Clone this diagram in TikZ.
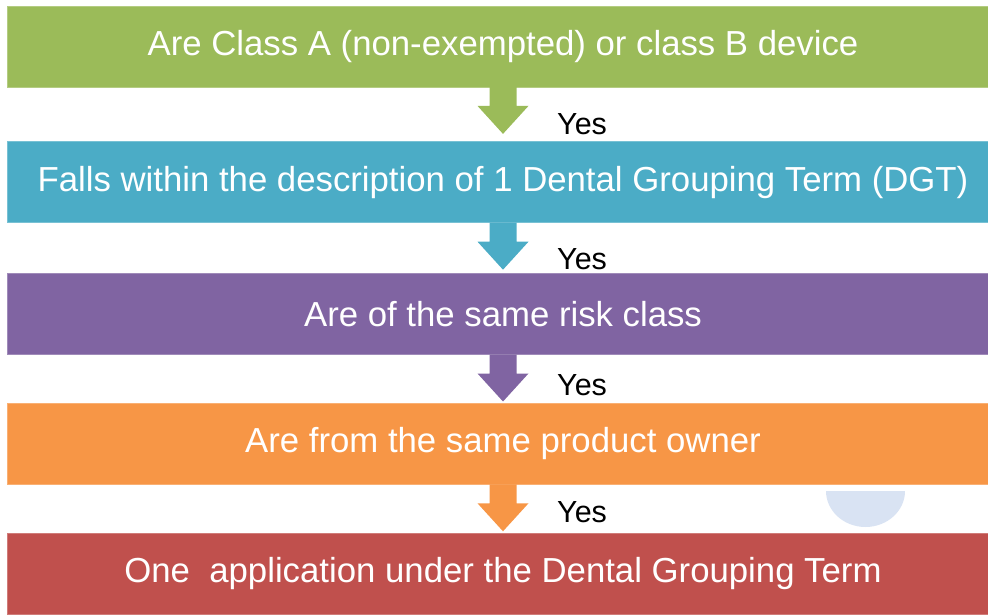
\documentclass[tikz,border=0pt]{standalone}
\usepackage{fontspec}
\setmainfont{Liberation Sans}
\usetikzlibrary{positioning, calc}
\definecolor{verde}{HTML}{9BBB59}
\definecolor{turquesa}{HTML}{4BACC6}
\definecolor{morado}{HTML}{8064A2}
\definecolor{naranja}{HTML}{F79646}
\definecolor{rojo}{HTML}{C0504D}
\definecolor{circulo}{HTML}{D9E3F3}
\tikzset{
	x=1pt, y=1pt, % Unidades en puntos
	node distance=50pt, % Distancia entre cajas
	caja/.style={rectangle, minimum width=992pt, minimum height=81pt, inner sep=2pt,
		fill=#1, draw=#1!75!white, line width=0.8pt, text=white,
		font=\fontsize{34.75}{40}\selectfont}, % Cajas de colores
	si/.style={font=\fontsize{30.5}{35}\selectfont, inner sep=0pt, anchor=base west} % Texto "Yes"
}
% Flecha gruesa de una caja a la siguiente
\newcommand{\flecha}[3]{%
	\coordinate (base) at ([yshift=0.5pt]#1.south);
	\coordinate (tip) at ($(base)!47pt!(base |- #2.north)$);
	\fill[#3] ($(base)+(-13.5,0)$) -- ($(tip)+(-13.5,28)$) -- ($(tip)+(-25.5,28)$) -- (tip)
		-- ($(tip)+(25.5,28)$) -- ($(tip)+(13.5,28)$) -- ($(base)+(13.5,0)$) -- cycle;
}

\begin{document}
\begin{tikzpicture}
	\useasboundingbox (0,0) rectangle (988,-615);
	\node[caja=verde] (b1) at (503,-46.5) {Are Class A (non-exempted) or class B device};
	\node[caja=turquesa, below=54pt of b1] (b2) {Falls within the description of 1 Dental Grouping Term (DGT)};
	\node[caja=morado, below=of b2] (b3) {Are of the same risk class};
	\node[caja=naranja, below=48pt of b3] (b4) {Are from the same product owner};
	\node[caja=rojo, below=48pt of b4] (b5) {One\ \ application under the Dental Grouping Term};
	\flecha{b1}{b2}{verde}
	\flecha{b2}{b3}{turquesa}
	\flecha{b3}{b4}{morado}
	\flecha{b4}{b5}{naranja}
	\node[si] (y1) at (557,-135) {Yes};
	\node[si] (y2) at (557,-269) {Yes};
	\node[si] (y3) at (557,-395) {Yes};
	\node[si] (y4) at (557,-522) {Yes};
	% Medio circulo claro
	\fill[circulo] (826,-491) arc[start angle=180, end angle=360, x radius=39.5, y radius=36] -- cycle;
\end{tikzpicture}
\end{document}
